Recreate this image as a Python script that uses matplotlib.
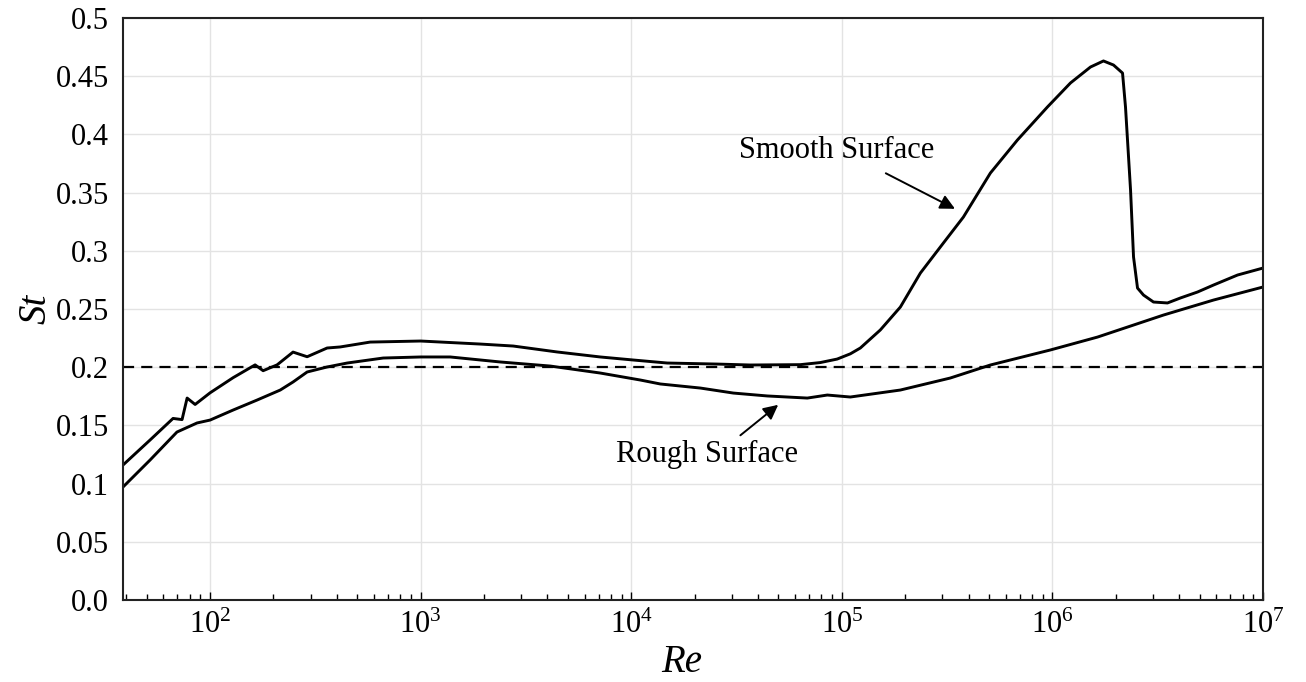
import numpy as np
import matplotlib
matplotlib.use("Agg")
import matplotlib.pyplot as plt
from matplotlib.ticker import FixedLocator, FixedFormatter, LogLocator, NullFormatter

plt.rcParams['font.family'] = ['Liberation Serif', 'DejaVu Serif']
plt.rcParams['mathtext.fontset'] = 'stix'

# гладкий цилиндр
re_smooth = np.array([38.6, 51.9, 66.7, 73.6, 77.8, 84.9, 100, 128.6, 163.6, 178.6,
                      208, 247.7, 289, 359.5, 414.8, 575.7, 1000, 1919, 2750, 4446,
                      7125, 10210, 14820, 25630, 36760, 63500, 79000, 95000, 109700, 122400,
                      152300, 189600, 236000, 303500, 377700, 507300, 682000, 946000, 1218000, 1516000,
                      1747000, 1950000, 2152000, 2223000, 2349000, 2427000, 2535000, 2706000, 3019000, 3518000,
                      4055000, 4885000, 5819000, 7568000, 1e7])
st_smooth = np.array([0.116, 0.1375, 0.156, 0.155, 0.1735, 0.168, 0.178, 0.191, 0.202, 0.197,
                      0.202, 0.213, 0.209, 0.2165, 0.2174, 0.2216, 0.2225, 0.2199, 0.2182, 0.2131,
                      0.2088, 0.2062, 0.2036, 0.2027, 0.2019, 0.2022, 0.204, 0.207, 0.2115, 0.2165,
                      0.232, 0.2517, 0.2809, 0.3067, 0.329, 0.3668, 0.3952, 0.4235, 0.4442, 0.4579,
                      0.4631, 0.4596, 0.4527, 0.4235, 0.3522, 0.2947, 0.268, 0.262, 0.256, 0.2552,
                      0.2595, 0.2646, 0.2706, 0.2792, 0.2852])

# шероховатый цилиндр
re_rough = np.array([38.6, 51.9, 69.6, 86.7, 100, 128.6, 167.2, 215.4, 247.7, 289,
                     359.5, 447.7, 664, 1000, 1381, 2388, 4125, 7125, 11040, 13740,
                     21290, 30540, 44290, 68560, 85310, 109700, 189600, 327000, 507300, 977000,
                     1637000, 3365000, 5819000, 1e7])
st_rough = np.array([0.0971, 0.1203, 0.1443, 0.1521, 0.1546, 0.1632, 0.1718, 0.1804, 0.1873, 0.1959,
                     0.2002, 0.2036, 0.2079, 0.2088, 0.2088, 0.2045, 0.201, 0.195, 0.189, 0.1856,
                     0.1821, 0.1778, 0.1753, 0.1735, 0.1761, 0.1744, 0.1804, 0.1907, 0.2019, 0.2148,
                     0.2259, 0.2448, 0.2577, 0.2689])

st_ref = 0.2
yticks = [0.0, 0.05, 0.1, 0.15, 0.2, 0.25, 0.3, 0.35, 0.4, 0.45, 0.5]
ytick_labels = ['0.0', '0.05', '0.1', '0.15', '0.2', '0.25', '0.3', '0.35', '0.4', '0.45', '0.5']

fig = plt.figure(figsize=(13.06, 6.82), dpi=100)
ax = fig.add_axes([0.0942, 0.1202, 0.8729, 0.8534])

ax.set_xscale('log')
ax.set_xlim(38.6, 1e7)
ax.set_ylim(0, 0.5)

ax.grid(True, which='major', color='#e3e3e3', linewidth=1.0)
ax.set_axisbelow(True)

ax.axhline(st_ref, color='k', linestyle=(0, (5, 3.2)), linewidth=1.6)
ax.plot(re_smooth, st_smooth, color='k', linewidth=2.1)
ax.plot(re_rough, st_rough, color='k', linewidth=2.1)

# подписи со стрелками
ax.text(94200, 0.3866, 'Smooth Surface', fontsize=22, ha='center', va='center')
ax.annotate('', xy=(354000, 0.335), xytext=(157400, 0.3677),
            arrowprops=dict(arrowstyle='-|>', color='k', lw=1.4, mutation_scale=22))
ax.text(22960, 0.1246, 'Rough Surface', fontsize=22, ha='center', va='center')
ax.annotate('', xy=(51050, 0.1692), xytext=(32200, 0.14),
            arrowprops=dict(arrowstyle='-|>', color='k', lw=1.4, mutation_scale=22))

ax.yaxis.set_major_locator(FixedLocator(yticks))
ax.yaxis.set_major_formatter(FixedFormatter(ytick_labels))
ax.xaxis.set_major_locator(LogLocator(base=10, numticks=12))
ax.xaxis.set_minor_locator(LogLocator(base=10, subs=np.arange(2, 10), numticks=12))
ax.xaxis.set_minor_formatter(NullFormatter())

ax.tick_params(axis='x', which='major', direction='in', length=6, width=1, labelsize=22, pad=8)
ax.tick_params(axis='x', which='minor', direction='in', length=4, width=1)
ax.tick_params(axis='y', which='both', length=0, labelsize=22, pad=10)

for s in ax.spines.values():
    s.set_linewidth(1.5)
    s.set_color('#222222')

ax.set_xlabel('Re', fontsize=28, style='italic', labelpad=4)
ax.xaxis.set_label_coords(0.49, -0.075)
ax.set_ylabel('St', fontsize=28, style='italic', labelpad=1)

plt.savefig('out.png', dpi=100)
